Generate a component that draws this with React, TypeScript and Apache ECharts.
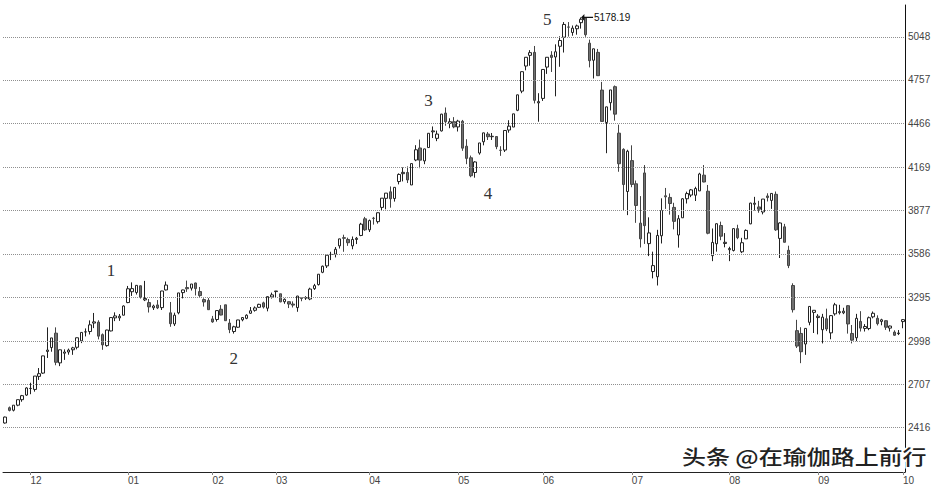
import React, { useEffect, useRef } from 'react';
import * as echarts from 'echarts';

// [date, open, high, low, close]
type Row = [string, number, number, number, number];

const nov2014: Row[] = [
  ['2014-11-21', 2447, 2490, 2443, 2487],
  ['2014-11-24', 2550, 2558, 2525, 2532],
  ['2014-11-25', 2533, 2567, 2525, 2567],
  ['2014-11-26', 2567, 2604, 2560, 2604],
  ['2014-11-27', 2604, 2636, 2590, 2631],
  ['2014-11-28', 2635, 2688, 2630, 2683],
];
const dec2014: Row[] = [
  ['2014-12-01', 2679, 2718, 2641, 2680],
  ['2014-12-02', 2673, 2763, 2658, 2763],
  ['2014-12-03', 2761, 2817, 2737, 2779],
  ['2014-12-04', 2783, 2900, 2778, 2899],
  ['2014-12-05', 2929, 3091, 2885, 2938],
  ['2014-12-08', 2955, 3020, 2927, 3020],
  ['2014-12-09', 3052, 3091, 2836, 2856],
  ['2014-12-10', 2852, 2941, 2830, 2940],
  ['2014-12-11', 2917, 2943, 2872, 2925],
  ['2014-12-12', 2925, 2948, 2907, 2938],
  ['2014-12-15', 2940, 2960, 2906, 2953],
  ['2014-12-16', 2957, 3022, 2943, 3021],
  ['2014-12-17', 3000, 3057, 2985, 3057],
  ['2014-12-18', 3060, 3084, 3030, 3061],
  ['2014-12-19', 3063, 3138, 3043, 3108],
  ['2014-12-22', 3120, 3188, 3086, 3128],
  ['2014-12-23', 3126, 3139, 3010, 3032],
  ['2014-12-24', 3042, 3050, 2940, 2973],
  ['2014-12-25', 2968, 3075, 2961, 3073],
  ['2014-12-26', 3067, 3159, 3064, 3157],
  ['2014-12-29', 3155, 3192, 3133, 3168],
  ['2014-12-30', 3155, 3181, 3135, 3166],
  ['2014-12-31', 3173, 3239, 3172, 3235],
];
const jan2015: Row[] = [
  ['2015-01-05', 3258, 3370, 3254, 3351],
  ['2015-01-06', 3331, 3394, 3303, 3352],
  ['2015-01-07', 3326, 3374, 3312, 3374],
  ['2015-01-08', 3371, 3373, 3285, 3294],
  ['2015-01-09', 3276, 3404, 3268, 3285],
  ['2015-01-12', 3258, 3282, 3191, 3229],
  ['2015-01-13', 3223, 3244, 3208, 3235],
  ['2015-01-14', 3242, 3275, 3214, 3222],
  ['2015-01-15', 3224, 3337, 3208, 3336],
  ['2015-01-16', 3343, 3400, 3340, 3376],
  ['2015-01-19', 3189, 3262, 3095, 3116],
  ['2015-01-20', 3114, 3190, 3100, 3173],
  ['2015-01-21', 3189, 3323, 3179, 3323],
  ['2015-01-22', 3325, 3345, 3286, 3343],
  ['2015-01-23', 3359, 3406, 3330, 3351],
  ['2015-01-26', 3355, 3383, 3339, 3383],
  ['2015-01-27', 3390, 3392, 3306, 3352],
  ['2015-01-28', 3332, 3363, 3296, 3305],
  ['2015-01-29', 3278, 3287, 3231, 3262],
  ['2015-01-30', 3273, 3288, 3209, 3210],
];
const feb2015: Row[] = [
  ['2015-02-02', 3148, 3168, 3122, 3128],
  ['2015-02-03', 3144, 3204, 3130, 3204],
  ['2015-02-04', 3213, 3241, 3172, 3174],
  ['2015-02-05', 3243, 3243, 3134, 3136],
  ['2015-02-06', 3120, 3147, 3052, 3076],
  ['2015-02-09', 3063, 3102, 3049, 3095],
  ['2015-02-10', 3092, 3142, 3088, 3141],
  ['2015-02-11', 3142, 3160, 3132, 3157],
  ['2015-02-12', 3152, 3179, 3146, 3173],
  ['2015-02-13', 3186, 3228, 3182, 3203],
  ['2015-02-16', 3206, 3232, 3197, 3222],
  ['2015-02-17', 3226, 3250, 3222, 3246],
  ['2015-02-25', 3256, 3264, 3218, 3228],
  ['2015-02-26', 3220, 3298, 3199, 3298],
  ['2015-02-27', 3296, 3325, 3285, 3310],
];
const mar2015: Row[] = [
  ['2015-03-02', 3332, 3336, 3291, 3336],
  ['2015-03-03', 3317, 3317, 3260, 3263],
  ['2015-03-04', 3264, 3286, 3250, 3280],
  ['2015-03-05', 3264, 3265, 3221, 3248],
  ['2015-03-06', 3248, 3266, 3225, 3241],
  ['2015-03-09', 3224, 3303, 3196, 3302],
  ['2015-03-10', 3291, 3295, 3267, 3286],
  ['2015-03-11', 3290, 3301, 3276, 3290],
  ['2015-03-12', 3282, 3358, 3274, 3349],
  ['2015-03-13', 3352, 3384, 3343, 3372],
  ['2015-03-16', 3379, 3449, 3373, 3449],
  ['2015-03-17', 3462, 3507, 3456, 3503],
  ['2015-03-18', 3505, 3577, 3491, 3577],
  ['2015-03-19', 3582, 3600, 3544, 3582],
  ['2015-03-20', 3584, 3632, 3562, 3617],
  ['2015-03-23', 3640, 3688, 3622, 3687],
  ['2015-03-24', 3695, 3715, 3600, 3691],
  ['2015-03-25', 3683, 3695, 3640, 3661],
  ['2015-03-26', 3640, 3703, 3617, 3683],
  ['2015-03-27', 3683, 3700, 3652, 3691],
  ['2015-03-30', 3710, 3795, 3705, 3786],
  ['2015-03-31', 3822, 3835, 3741, 3748],
];
const apr2015: Row[] = [
  ['2015-04-01', 3748, 3817, 3733, 3810],
  ['2015-04-02', 3826, 3835, 3783, 3825],
  ['2015-04-03', 3803, 3865, 3790, 3863],
  ['2015-04-07', 3899, 3961, 3877, 3961],
  ['2015-04-08', 3960, 3995, 3886, 3995],
  ['2015-04-09', 4004, 4040, 3897, 3957],
  ['2015-04-10', 3959, 4034, 3938, 4034],
  ['2015-04-13', 4073, 4128, 4054, 4121],
  ['2015-04-14', 4126, 4168, 4074, 4135],
  ['2015-04-15', 4134, 4175, 4063, 4084],
  ['2015-04-16', 4050, 4194, 4050, 4194],
  ['2015-04-17', 4218, 4318, 4210, 4287],
  ['2015-04-20', 4299, 4356, 4163, 4217],
  ['2015-04-21', 4212, 4294, 4190, 4293],
  ['2015-04-22', 4302, 4398, 4301, 4398],
  ['2015-04-23', 4408, 4444, 4366, 4414],
  ['2015-04-24', 4364, 4416, 4345, 4393],
  ['2015-04-27', 4414, 4529, 4410, 4527],
  ['2015-04-28', 4534, 4572, 4449, 4476],
  ['2015-04-29', 4465, 4499, 4432, 4476],
  ['2015-04-30', 4476, 4507, 4432, 4441],
];
const may2015: Row[] = [
  ['2015-05-04', 4441, 4489, 4410, 4480],
  ['2015-05-05', 4479, 4488, 4280, 4298],
  ['2015-05-06', 4311, 4358, 4190, 4229],
  ['2015-05-07', 4233, 4248, 4102, 4112],
  ['2015-05-08', 4134, 4210, 4099, 4205],
  ['2015-05-11', 4265, 4333, 4254, 4333],
  ['2015-05-12', 4341, 4402, 4317, 4401],
  ['2015-05-13', 4393, 4407, 4353, 4375],
  ['2015-05-14', 4375, 4400, 4353, 4378],
  ['2015-05-15', 4376, 4377, 4291, 4308],
  ['2015-05-18', 4284, 4311, 4246, 4283],
  ['2015-05-19', 4285, 4418, 4272, 4417],
  ['2015-05-20', 4420, 4486, 4402, 4446],
  ['2015-05-21', 4440, 4529, 4440, 4529],
  ['2015-05-22', 4553, 4658, 4547, 4657],
  ['2015-05-25', 4682, 4814, 4668, 4813],
  ['2015-05-26', 4851, 4911, 4822, 4910],
  ['2015-05-27', 4923, 4958, 4853, 4941],
  ['2015-05-28', 4943, 4986, 4599, 4620],
  ['2015-05-29', 4603, 4668, 4476, 4611],
];
const jun2015: Row[] = [
  ['2015-06-01', 4633, 4829, 4616, 4828],
  ['2015-06-02', 4844, 4911, 4798, 4910],
  ['2015-06-03', 4924, 4951, 4811, 4909],
  ['2015-06-04', 4912, 4997, 4647, 4947],
  ['2015-06-05', 4984, 5051, 4846, 5023],
  ['2015-06-08', 5045, 5147, 4942, 5131],
  ['2015-06-09', 5114, 5147, 5049, 5113],
  ['2015-06-10', 5077, 5124, 5055, 5106],
  ['2015-06-11', 5102, 5130, 5062, 5121],
  ['2015-06-12', 5143, 5178.19, 5103, 5166],
  ['2015-06-15', 5174, 5176, 5048, 5062],
  ['2015-06-16', 5005, 5029, 4842, 4887],
  ['2015-06-17', 4890, 4968, 4767, 4967],
  ['2015-06-18', 4943, 4966, 4785, 4786],
  ['2015-06-19', 4689, 4744, 4476, 4478],
  ['2015-06-23', 4471, 4577, 4264, 4576],
  ['2015-06-24', 4604, 4690, 4552, 4690],
  ['2015-06-25', 4712, 4720, 4483, 4527],
  ['2015-06-26', 4399, 4456, 4139, 4193],
  ['2015-06-29', 4290, 4297, 3875, 4053],
  ['2015-06-30', 4006, 4287, 3847, 4277],
];
const jul2015: Row[] = [
  ['2015-07-01', 4214, 4317, 4035, 4054],
  ['2015-07-02', 4058, 4080, 3795, 3912],
  ['2015-07-03', 3793, 3975, 3629, 3687],
  ['2015-07-06', 4131, 4184, 3653, 3776],
  ['2015-07-07', 3655, 3832, 3571, 3727],
  ['2015-07-08', 3467, 3601, 3421, 3507],
  ['2015-07-09', 3432, 3748, 3373, 3710],
  ['2015-07-10', 3708, 3960, 3656, 3878],
  ['2015-07-13', 3977, 4030, 3889, 3970],
  ['2015-07-14', 3966, 3993, 3850, 3925],
  ['2015-07-15', 3899, 3930, 3751, 3805],
  ['2015-07-16', 3713, 3847, 3628, 3823],
  ['2015-07-17', 3829, 3961, 3829, 3957],
  ['2015-07-20', 3957, 4005, 3925, 3992],
  ['2015-07-21', 3982, 4023, 3968, 4017],
  ['2015-07-22', 3981, 4038, 3942, 4026],
  ['2015-07-23', 4010, 4132, 4009, 4124],
  ['2015-07-24', 4116, 4184, 4068, 4070],
  ['2015-07-27', 4008, 4050, 3718, 3725],
  ['2015-07-28', 3574, 3757, 3537, 3663],
  ['2015-07-29', 3654, 3791, 3601, 3789],
  ['2015-07-30', 3777, 3803, 3678, 3705],
  ['2015-07-31', 3656, 3726, 3630, 3664],
];
const aug2015: Row[] = [
  ['2015-08-03', 3614, 3634, 3537, 3622],
  ['2015-08-04', 3609, 3757, 3602, 3756],
  ['2015-08-05', 3756, 3782, 3685, 3695],
  ['2015-08-06', 3600, 3694, 3591, 3661],
  ['2015-08-07', 3687, 3751, 3687, 3744],
  ['2015-08-10', 3788, 3930, 3786, 3928],
  ['2015-08-11', 3920, 3970, 3878, 3927],
  ['2015-08-12', 3902, 3943, 3863, 3887],
  ['2015-08-13', 3868, 3955, 3852, 3955],
  ['2015-08-14', 3976, 3994, 3939, 3965],
  ['2015-08-17', 3946, 3994, 3889, 3993],
  ['2015-08-18', 3987, 4006, 3741, 3748],
  ['2015-08-19', 3690, 3798, 3558, 3794],
  ['2015-08-20', 3768, 3788, 3663, 3664],
  ['2015-08-21', 3610, 3641, 3490, 3507],
  ['2015-08-24', 3373, 3388, 3191, 3210],
  ['2015-08-25', 3069, 3142, 2952, 2965],
  ['2015-08-26', 3050, 3092, 2850, 2927],
  ['2015-08-27', 2979, 3084, 2906, 3084],
  ['2015-08-28', 3125, 3233, 3105, 3232],
  ['2015-08-31', 3192, 3206, 3053, 3206],
];
const sep2015: Row[] = [
  ['2015-09-01', 3157, 3180, 3044, 3166],
  ['2015-09-02', 3075, 3182, 2983, 3160],
  ['2015-09-07', 3149, 3217, 3066, 3080],
  ['2015-09-08', 3054, 3174, 3011, 3170],
  ['2015-09-09', 3182, 3256, 3170, 3243],
  ['2015-09-10', 3190, 3243, 3178, 3197],
  ['2015-09-11', 3189, 3223, 3180, 3200],
  ['2015-09-14', 3237, 3241, 3049, 3114],
  ['2015-09-15', 3050, 3107, 2983, 3005],
  ['2015-09-16', 3021, 3182, 2998, 3152],
  ['2015-09-17', 3131, 3200, 3063, 3086],
  ['2015-09-18', 3084, 3113, 3063, 3097],
  ['2015-09-21', 3083, 3164, 3072, 3156],
  ['2015-09-22', 3162, 3198, 3152, 3186],
  ['2015-09-23', 3152, 3172, 3104, 3116],
  ['2015-09-24', 3131, 3149, 3105, 3142],
  ['2015-09-25', 3136, 3137, 3074, 3092],
  ['2015-09-28', 3086, 3103, 3063, 3100],
  ['2015-09-29', 3059, 3071, 3034, 3038],
  ['2015-09-30', 3049, 3073, 3039, 3053],
];
const oct2015: Row[] = [
  ['2015-10-08', 3130, 3147, 3085, 3143],
];

const yTickLabels = [2416, 2707, 2998, 3295, 3586, 3877, 4169, 4466, 4757, 5048];

const waveLabels: { text: string; date: string; value: number }[] = [
  { text: '1', date: '2014-12-26', value: 3476 },
  { text: '2', date: '2015-02-09', value: 2880 },
  { text: '3', date: '2015-04-22', value: 4621 },
  { text: '4', date: '2015-05-13', value: 3995 },
  { text: '5', date: '2015-06-02', value: 5161 },
];

const watermark = '头条 @在瑜伽路上前行';

const allRows: Row[] = [
  ...nov2014, ...dec2014, ...jan2015, ...feb2015, ...mar2015, ...apr2015,
  ...may2015, ...jun2015, ...jul2015, ...aug2015, ...sep2015, ...oct2015,
];

export default function App() {
  const ref = useRef<HTMLDivElement>(null);
  useEffect(() => {
    const chart = echarts.init(ref.current!, null, { renderer: 'svg' });
    const dates = allRows.map((r) => r[0]);
    const monthStart = dates.map((d, i) => i > 0 && d.slice(5, 7) !== dates[i - 1].slice(5, 7));
    const candles = allRows.map((r) => [r[1], r[4], r[3], r[2]]);

    chart.setOption({
      animation: false,
      backgroundColor: '#ffffff',
      grid: { left: 3, right: 39, top: 5, bottom: 16 },
      xAxis: {
        type: 'category',
        data: dates,
        boundaryGap: true,
        axisLine: { show: true, lineStyle: { color: '#222', width: 1 } },
        axisTick: {
          show: true,
          alignWithLabel: true,
          length: 3,
          interval: (i: number) => monthStart[i],
          lineStyle: { color: '#888' },
        },
        axisLabel: {
          show: true,
          interval: (i: number) => monthStart[i],
          formatter: (v: string) => v.slice(5, 7),
          align: 'left',
          margin: 3,
          color: '#444',
          fontSize: 10,
          fontFamily: 'Liberation Sans, Arial, sans-serif',
        },
        splitLine: { show: false },
      },
      yAxis: {
        type: 'value',
        position: 'right',
        min: 2117,
        max: 5262,
        scale: true,
        axisLine: { show: true, lineStyle: { color: '#111', width: 1 } },
        axisTick: { show: false },
        axisLabel: { show: false },
        splitLine: { show: false },
      },
      series: [
        {
          type: 'candlestick',
          data: candles,
          barWidth: 3,
          itemStyle: {
            color: '#ffffff',
            color0: '#707070',
            borderColor: '#222222',
            borderColor0: '#444444',
            borderWidth: 1,
          },
          markLine: {
            silent: true,
            symbol: ['none', 'none'],
            animation: false,
            lineStyle: { type: 'dotted', color: '#8f8f8f', width: 1 },
            label: {
              show: true,
              position: 'end',
              distance: 3,
              color: '#444',
              fontSize: 10,
              fontFamily: 'Liberation Sans, Arial, sans-serif',
              formatter: (p: any) => String(p.value),
            },
            emphasis: { disabled: true },
            data: yTickLabels.map((v) => ({ yAxis: v })),
          },
          markPoint: {
            silent: true,
            animation: false,
            data: [
              {
                type: 'max',
                valueDim: 'highest',
                symbol: 'path://M0,5 L5,2 L5,4.5 L18,4.5 L18,5.5 L5,5.5 L5,8 Z',
                symbolSize: [12, 7],
                symbolOffset: [6, 0],
                itemStyle: { color: '#111' },
                label: {
                  show: true,
                  position: 'right',
                  distance: 1,
                  color: '#111',
                  fontSize: 10,
                  fontFamily: 'Liberation Sans, Arial, sans-serif',
                  formatter: (p: any) => Number(p.value).toFixed(2),
                },
              },
              ...waveLabels.map((w) => ({
                coord: [w.date, w.value],
                symbol: 'circle',
                symbolSize: 0,
                itemStyle: { color: 'transparent' },
                label: {
                  show: true,
                  position: 'inside',
                  formatter: w.text,
                  color: '#333',
                  fontSize: 17,
                  fontFamily: 'Liberation Serif, Times New Roman, serif',
                },
              })),
            ],
          },
        },
      ],
      graphic: [
        {
          type: 'text',
          x: 682,
          y: 446,
          scaleX: 1.2,
          style: {
            text: watermark,
            fontSize: 20,
            fontWeight: 500,
            fontFamily: 'Noto Sans CJK SC',
            fill: '#222222',
            stroke: '#ffffff',
            lineWidth: 3,
          },
          z: 100,
        },
      ],
    });
    return () => chart.dispose();
  }, []);
  return (
    <div
      ref={ref}
      style={{ position: 'absolute', left: 0, top: 0, width: 944, height: 488 }}
    />
  );
}
